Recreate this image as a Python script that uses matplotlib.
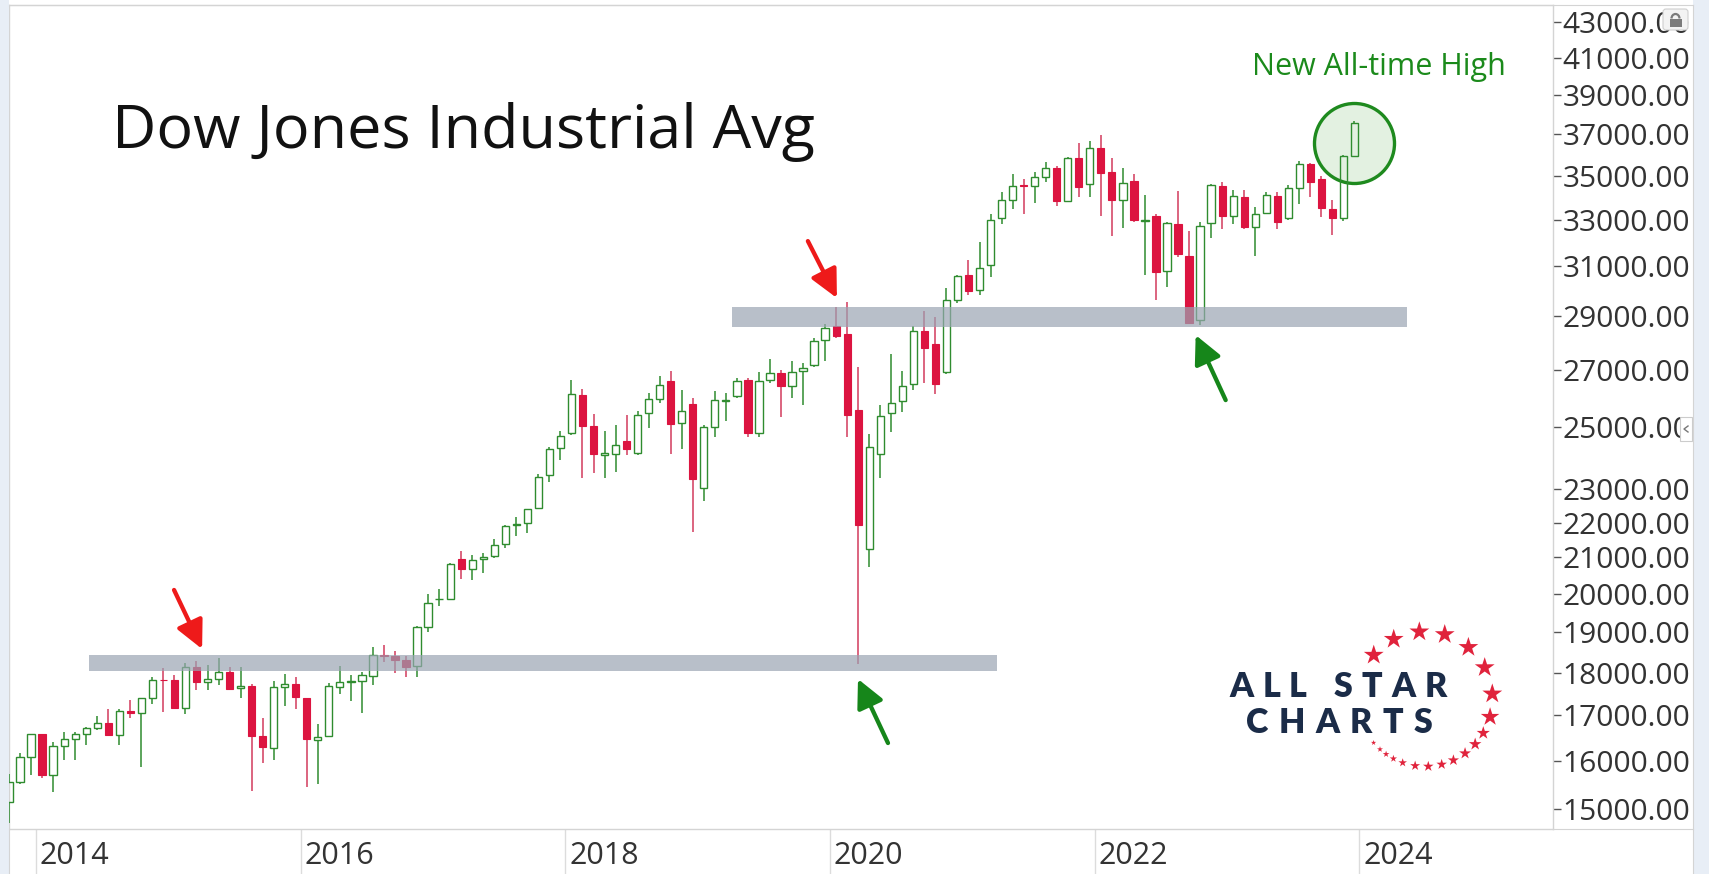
import numpy as np
import pandas as pd
import matplotlib
matplotlib.use("Agg")
import matplotlib.pyplot as plt
import matplotlib.ticker as mticker
from matplotlib.patches import FancyBboxPatch, Rectangle, Arc

plt.rcParams['font.family'] = ['Open Sans', 'DejaVu Sans']

# ---------------- data (monthly DJIA candles, Oct 2013 - Dec 2023) ----------------
months = [p.strftime('%Y-%m') for p in pd.period_range('2013-10', '2023-12', freq='M')]

opens = [15130, 15545, 16086,
         16572, 15698, 16321, 16462, 16580, 16716, 16828, 16561, 17099, 17041, 17391, 17827,
         17823, 17169, 18134, 17778, 17840, 18017, 17638, 17690, 16528, 16278, 17665, 17719,
         17405, 16451, 16546, 17661, 17783, 17789, 17925, 18434, 18394, 18308, 18158, 19123,
         19850, 19864, 20957, 20665, 20962, 21030, 21392, 21930, 21982, 22423, 23442, 24306,
         24809, 26084, 25024, 24076, 24117, 24542, 24161, 25461, 25965, 26598, 25155, 25780,
         23058, 24999, 25900, 26075, 26639, 24820, 26638, 26863, 26399, 26962, 27185, 28110,
         28638, 28320, 25591, 21227, 24120, 25475, 25879, 26472, 28439, 27940, 26925, 29640,
         30628, 30055, 31066, 33054, 33904, 34585, 34507, 34936, 35375, 33848, 35834, 34593,
         36321, 35152, 33889, 34733, 32950, 33156, 30800, 32799, 31454, 28855, 32862, 34534,
         33149, 34039, 32658, 33297, 34079, 33062, 34416, 35530, 34837, 33463, 33069, 35950]
highs = [15710, 16174, 16588,
         16589, 16398, 16631, 16632, 16736, 16978, 17152, 17154, 17350, 17395, 17895, 18103,
         17951, 18244, 18289, 18175, 18351, 18137, 18129, 17716, 16933, 17799, 17977, 17896,
         17405, 16795, 17754, 18168, 17934, 18017, 18622, 18668, 18534, 18399, 19152, 19988,
         20125, 20851, 21169, 21071, 21112, 21535, 21929, 22179, 22420, 23485, 24328, 24876,
         26617, 26306, 25449, 24858, 25087, 25402, 25552, 26167, 26769, 26951, 26277, 25980,
         25075, 26241, 26156, 26696, 26695, 26907, 27399, 26980, 27306, 27253, 28175, 28702,
         29374, 29568, 27102, 24764, 25758, 27580, 26954, 28630, 29199, 28958, 30116, 30637,
         31272, 32010, 33259, 34257, 35091, 34849, 35171, 35631, 35464, 35892, 36565, 36679,
         36953, 35824, 35372, 35093, 34117, 33272, 32910, 34281, 32504, 32883, 34595, 34712,
         34342, 34335, 33572, 34257, 34257, 34589, 35679, 35579, 34977, 33893, 35987, 37680]
lows = [14719, 15500, 15703,
        15640, 15340, 16015, 16015, 16334, 16674, 16561, 16334, 16945, 15855, 17265, 17068,
        17136, 17038, 17585, 17594, 17699, 17597, 17399, 15370, 15942, 16013, 17210, 17139,
        15450, 15503, 16510, 17484, 17331, 17063, 17713, 18247, 17992, 17884, 17883, 19006,
        19677, 19831, 20412, 20379, 20553, 20994, 21279, 21600, 21709, 22416, 23242, 23921,
        24741, 23360, 23509, 23344, 23532, 24078, 24077, 24965, 25807, 24123, 24269, 21713,
        22639, 24680, 25208, 25999, 24680, 24680, 26504, 25339, 25978, 25743, 27084, 27325,
        28169, 24681, 18213, 20735, 23361, 24844, 25523, 26287, 26537, 26143, 26850, 29529,
        29856, 29856, 30547, 32797, 33473, 33272, 33742, 34690, 33613, 33785, 34006, 34006,
        33150, 32273, 32632, 32887, 30636, 29653, 30144, 31402, 28715, 28661, 32195, 32573,
        32812, 32578, 31430, 33235, 32586, 32991, 33706, 34030, 33102, 32327, 32948, 35900]
closes = [15546, 16086, 16577,
          15699, 16322, 16458, 16581, 16717, 16827, 16563, 17098, 17043, 17391, 17828, 17823,
          17165, 18133, 17776, 17841, 18011, 17620, 17690, 16528, 16285, 17664, 17720, 17425,
          16466, 16517, 17685, 17774, 17787, 17930, 18432, 18401, 18308, 18142, 19124, 19763,
          19864, 20812, 20663, 20940, 21009, 21350, 21891, 21948, 22405, 23377, 24272, 24719,
          26149, 25029, 24103, 24163, 24416, 24271, 25415, 25965, 26458, 25116, 25538, 23327,
          24999, 25916, 25929, 26593, 24815, 26600, 26864, 26403, 26917, 27046, 28051, 28538,
          28256, 25409, 21917, 24346, 25383, 25813, 26428, 28430, 27782, 26502, 29639, 30606,
          29983, 30932, 32982, 33875, 34529, 34503, 34935, 35361, 33844, 35820, 34484, 36338,
          35132, 33893, 34678, 32977, 32990, 30775, 32845, 31510, 28725, 32733, 34590, 33147,
          34086, 32657, 33274, 34098, 32908, 34408, 35559, 34722, 33508, 33053, 35951, 37580]

y_ticks = [15000, 16000, 17000, 18000, 19000, 20000, 21000, 22000, 23000,
           25000, 27000, 29000, 31000, 33000, 35000, 37000, 39000, 41000, 43000]
x_years = [2014, 2016, 2018, 2020, 2022, 2024]

# support / resistance zones (value ranges and month-index spans)
zone_lo = [18050, 28584]
zone_hi = [18420, 29357]
zone_start = [7.26, 65.55]
zone_end = [89.6, 126.75]

# ---------------- figure ----------------
W, H = 1709, 874
fig = plt.figure(figsize=(W / 100, H / 100), dpi=100)
fig.patch.set_facecolor('white')

L_px, R_px, T_px, B_px = 9, 1553, 5, 829
ax = fig.add_axes([L_px / W, (H - B_px) / H, (R_px - L_px) / W, (B_px - T_px) / H])
ax.set_facecolor('white')

GREEN = '#2f8c2f'
RED = '#dc1440'
RED_WICK = '#d23a5c'

o = np.array(opens, float); h = np.array(highs, float)
l = np.array(lows, float); c = np.array(closes, float)
x = np.arange(len(months))
up = c >= o
blo = np.minimum(o, c); bhi = np.maximum(o, c)

# highlight circle around last candle
ax.scatter([x[-1]], [36560], s=3318, marker='o', facecolor='#e3f1e1',
           edgecolor='#1e8a1e', linewidth=2.4, zorder=1)

ax.vlines(x[up], bhi[up], h[up], color=GREEN, lw=1.1, zorder=3)
ax.vlines(x[up], l[up], blo[up], color=GREEN, lw=1.1, zorder=3)
ax.vlines(x[~up], l[~up], h[~up], color=RED_WICK, lw=1.1, zorder=3)
ax.bar(x[up], bhi[up] - blo[up], bottom=blo[up], width=0.66, facecolor='none',
       edgecolor=GREEN, linewidth=1.0, zorder=4)
ax.bar(x[~up], bhi[~up] - blo[~up], bottom=blo[~up], width=0.66, facecolor=RED,
       edgecolor=RED, linewidth=0.8, zorder=4)

for lo, hi, s, e in zip(zone_lo, zone_hi, zone_start, zone_end):
    ax.fill_between([s, e], lo, hi, color='#9aa5b3', alpha=0.7, linewidth=0, zorder=5)

ax.set_yscale('log')
ax.set_ylim(14600, 43985)
ax.set_xlim(0, 140)

ax.yaxis.set_ticks_position('right')
ax.set_yticks(y_ticks)
ax.yaxis.set_major_formatter(mticker.FormatStrFormatter('%.2f'))
ax.yaxis.set_minor_locator(mticker.NullLocator())
ax.tick_params(axis='y', which='major', direction='out', length=6, width=1,
               color='#555555', pad=1, labelsize=21.5, labelcolor='#333333')

year_pos = [(yr - 2013) * 12 - 9 - 0.55 for yr in x_years]
ax.set_xticks(year_pos)
ax.xaxis.set_minor_locator(mticker.NullLocator())
ax.tick_params(axis='x', direction='out', length=32.4, width=1, color='#dcdcdc',
               labelbottom=False)
for pos, yr in zip(year_pos, x_years):
    ax.annotate(str(yr), xy=(pos, 0), xycoords=('data', 'axes fraction'),
                xytext=(2.6, -25.2), textcoords='offset points', ha='left',
                va='baseline', fontsize=22, color='#333333', annotation_clip=False)

for sp in ax.spines.values():
    sp.set_color('#d4d4d4')
    sp.set_linewidth(1)

# arrows (tip anchored to chart data location, tail as offset)
arrows = [((17.51, 18577), (-20.2, 42.5), '#ee1a1a'),
          ((75.07, 29715), (-20.9, 41.0), '#ee1a1a'),
          ((76.98, 17846), (21.6, -46.1), '#16861a'),
          ((107.6, 28277), (21.6, -46.8), '#16861a')]
for tip, off, col in arrows:
    ax.annotate('', xy=tip, xycoords='data', xytext=off, textcoords='offset points',
                arrowprops=dict(arrowstyle='-|>,head_length=0.85,head_width=0.42',
                                mutation_scale=20, lw=3.1, color=col,
                                shrinkA=0, shrinkB=0),
                zorder=6, annotation_clip=False)

# texts
fig.text(111.5 / W, 1 - 148 / H, 'Dow Jones Industrial Avg', fontsize=44,
         color='#111111', ha='left', va='baseline')
fig.text(1379 / W, 1 - 75 / H, 'New All-time High', fontsize=22,
         color='#1b8a1b', ha='center', va='baseline')

# ---------------- overlay (frame, logo, icons) in pixel coords ----------------
ov = fig.add_axes([0, 0, 1, 1], zorder=10)
ov.set_xlim(0, W); ov.set_ylim(H, 0); ov.axis('off'); ov.patch.set_visible(False)

ov.add_patch(Rectangle((0, 0), 8.5, H, fc='#e8eef6', ec='none'))
ov.add_patch(Rectangle((1692.5, 0), W - 1692.5, H, fc='#e8eef6', ec='none'))
ov.plot([L_px, 1692.5], [T_px, T_px], color='#d4d4d4', lw=0.8)
ov.plot([R_px, 1692.5], [B_px, B_px], color='#d4d4d4', lw=0.8)
ov.plot([1692.5, 1692.5], [T_px, H], color='#d4d4d4', lw=0.8)
ov.plot([L_px, L_px], [B_px, H], color='#d4d4d4', lw=0.8)

# lock icon
ov.add_patch(FancyBboxPatch((1663, 9), 25, 21, boxstyle='round,pad=0,rounding_size=3',
                            fc='#f3f3f3', ec='#cfcfcf', lw=0.8))
ov.add_patch(Rectangle((1669.5, 18.5), 12, 8, fc='#7b7b7b', ec='none'))
ov.add_patch(Arc((1675.5, 18.5), 8, 9, theta1=180, theta2=360, color='#7b7b7b', lw=1.6))
# side tab with drawn chevron
ov.add_patch(Rectangle((1680, 417), 12, 24, fc='white', ec='#cccccc', lw=0.8))
ov.plot([1688, 1684, 1688], [426, 429, 432], color='#777777', lw=1.0)

# logo text with tracking
renderer = fig.canvas.get_renderer()
NAVY = '#1b2c48'


def tracked(s, x0, x1, base_y, size):
    arts = []
    widths = []
    for ch in s:
        t = ov.text(0, base_y, ch if ch != ' ' else '', fontsize=size, family='Lato',
                    fontweight='heavy', color=NAVY, ha='left', va='baseline')
        if ch == ' ':
            wdt = size * 0.26 / 0.72
        else:
            wdt = t.get_window_extent(renderer=renderer).width
        arts.append(t); widths.append(wdt)
    track = ((x1 - x0) - sum(widths)) / (len(s) - 1)
    cur = x0
    for t, wdt in zip(arts, widths):
        t.set_x(cur)
        cur += wdt + track


tracked('ALL STAR', 1229, 1447, 697, 24.5)
tracked('CHARTS', 1246, 1432, 733, 24.5)

# stars around logo
star_ang = [139.4, 117.6, 94.8, 73, 50, 27.8, 4.4, -15.4, -30.3, -42, -53.6, -65.1,
            -75.7, -87.2, -98.4, -109.3, -117.9, -125.2, -131.8, -139.6]
star_ms = [15, 15, 15, 15, 15, 15, 15, 14, 10, 9.5, 9, 8.5, 8, 8, 7.5, 6.5, 5.5, 5, 4.5, 4]
cx, cy, rad = 1425, 699, 67.5
sx = [cx + rad * np.cos(np.radians(a)) for a in star_ang]
sy = [cy - rad * np.sin(np.radians(a)) for a in star_ang]
ov.scatter(sx, sy, s=[m ** 2 for m in star_ms], marker='*', color='#e0233c',
           linewidths=0)

fig.savefig('out.png', dpi=100)
